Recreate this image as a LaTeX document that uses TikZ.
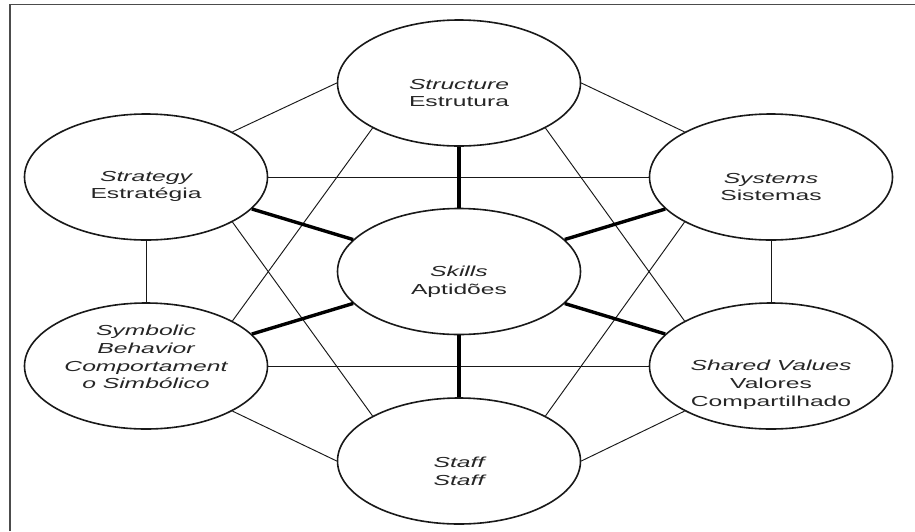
\documentclass[tikz,border=0pt]{standalone}
\usepackage{fontspec}
\setmainfont{Liberation Sans}
\newfontfamily\labfont[FakeStretch=1.7]{Liberation Sans}
\usetikzlibrary{shapes.geometric}
\begin{document}
\begin{tikzpicture}[x=1pt,y=-1pt,
  oval/.style={ellipse, draw=black!90, line width=1.6pt, fill=white,
    minimum width=243pt, minimum height=126pt, inner sep=0pt},
  lab/.style={align=center, font=\labfont\fontsize{14.5}{17.8}\selectfont,
    text=black!85, inner sep=0pt},
  link/.style={draw=black!90, line width=0.95pt},
  spoke/.style={draw=black, line width=3.4pt},
  frameline/.style={draw=black!70, line width=1.5pt}]
\useasboundingbox (0,0) rectangle (915,531);
\fill[white] (0,0) rectangle (915,531);
\draw[frameline] (10,531) -- (10,4.5) -- (915,4.5);

\node[oval] (str) at (459,83) {};
\node[oval] (stg) at (146,177) {};
\node[oval] (sys) at (771,177) {};
\node[oval] (skl) at (459,271.5) {};
\node[oval] (sym) at (146,366) {};
\node[oval] (shv) at (771,366) {};
\node[oval] (stf) at (459,461) {};

% thin links
\draw[link] (str.west) -- (stg.north east);
\draw[link] (str.east) -- (sys.north west);
\draw[link] (stg.east) -- (sys.west);
\draw[link] (sym.east) -- (shv.west);
\draw[link] (stg.south) -- (sym.north);
\draw[link] (sys.south) -- (shv.north);
\draw[link] (str.south west) -- (sym.north east);
\draw[link] (str.south east) -- (shv.north west);
\draw[link] (stg.south east) -- (stf.north west);
\draw[link] (sys.south west) -- (stf.north east);
\draw[link] (sym.south east) -- (stf.west);
\draw[link] (shv.south west) -- (stf.east);

% thick spokes
\draw[spoke] (skl) -- (str);
\draw[spoke] (skl) -- (stg);
\draw[spoke] (skl) -- (sys);
\draw[spoke] (skl) -- (sym);
\draw[spoke] (skl) -- (shv);
\draw[spoke] (skl) -- (stf);

% labels
\node[lab] (strT) at (459,93) {{\itshape Structure}\\Estrutura};
\node[lab] (stgT) at (146,186.5) {{\itshape Strategy}\\Estratégia};
\node[lab] (sysT) at (771,187) {{\itshape Systems}\\Sistemas};
\node[lab] (sklT) at (459,282) {{\itshape Skills}\\Aptidões};
\node[lab] (symT) at (146,357) {{\itshape Symbolic}\\{\itshape Behavior}\\{\itshape Comportament}\\{\itshape o Simbólico}};
\node[lab] (shvT) at (771,384.5) {{\itshape Shared Values}\\Valores\\Compartilhado};
\node[lab] (stfT) at (459,471) {{\itshape Staff}\\{\itshape Staff}};
\end{tikzpicture}
\end{document}
